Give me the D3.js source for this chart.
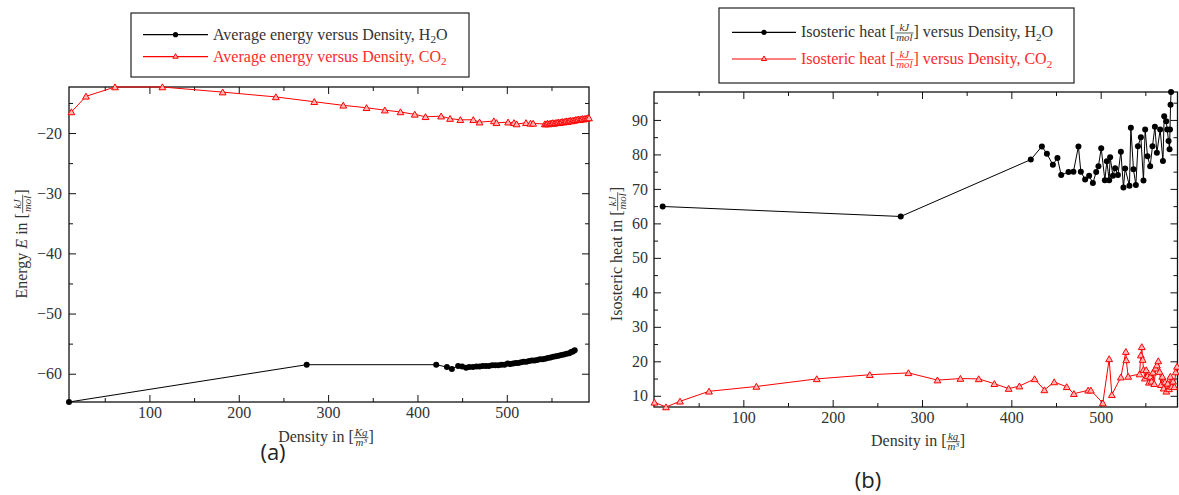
<!DOCTYPE html>
<html><head><meta charset="utf-8">
<script src="https://cdn.jsdelivr.net/npm/d3@7"></script>
<style>
html,body{margin:0;padding:0;background:#fff;}
svg{display:block;font-family:'Liberation Serif','DejaVu Serif',serif;}
</style></head>
<body>
<svg id="chart" width="1179" height="495"></svg>
<script>
// ---------- Panel (a): average energy vs density ----------
const aH2oDensity = [10, 276, 421, 433, 438.5, 445.5, 450, 454.5, 458, 462, 466, 469.5, 473, 476.5, 480, 483.5, 487, 490.5, 494, 497.5, 501, 504, 507, 510, 513, 516, 519, 522, 525, 528, 531, 534, 537, 540, 543, 546, 549, 552, 555, 558, 561, 564, 567, 570, 572, 574, 576];
const aH2oEnergy = [-64.7, -58.5, -58.5, -58.9, -59.2, -58.7, -58.8, -59.0, -58.9, -58.9, -58.8, -58.8, -58.7, -58.7, -58.7, -58.6, -58.6, -58.6, -58.5, -58.5, -58.3, -58.4, -58.3, -58.2, -58.2, -58.1, -58.0, -58.0, -57.9, -57.8, -57.8, -57.7, -57.6, -57.6, -57.5, -57.4, -57.3, -57.2, -57.1, -57.0, -56.9, -56.8, -56.7, -56.6, -56.4, -56.3, -56.1];
const aCo2Density = [12.7, 29, 61.5, 114.5, 182, 241.5, 284.5, 317, 343, 363.5, 381, 397, 409, 426.5, 436.5, 448, 462.5, 469.5, 485.5, 488.5, 501.5, 508, 511, 521.5, 526.5, 529.5, 542.5, 544, 545.5, 547, 548.5, 550, 551.5, 553, 554.5, 556, 557.5, 559, 560.5, 562, 563.5, 565, 566.5, 568, 569.5, 571, 572.5, 574, 575.5, 577, 578.5, 580, 581.5, 583, 584.5, 586, 587.5, 589, 590.5, 592];
const aCo2Energy = [-16.5, -13.9, -12.35, -12.35, -13.2, -14.0, -14.8, -15.4, -15.8, -16.2, -16.5, -16.9, -17.3, -17.2, -17.6, -17.8, -17.8, -18.2, -18.0, -18.3, -18.2, -18.3, -18.5, -18.3, -18.4, -18.4, -18.5, -18.5, -18.4, -18.5, -18.4, -18.4, -18.3, -18.4, -18.3, -18.3, -18.2, -18.3, -18.2, -18.1, -18.2, -18.1, -18.0, -18.1, -18.0, -17.9, -18.0, -17.9, -17.9, -17.8, -17.8, -17.7, -17.8, -17.7, -17.6, -17.7, -17.6, -17.6, -17.5, -17.5];

// ---------- Panel (b): isosteric heat vs density ----------
const bH2oDensity = [9.7, 276.2, 421.8, 434.2, 439.8, 446.5, 451.6, 455.8, 464, 469.5, 475.1, 477.8, 482.6, 487.1, 491.3, 495, 497.5, 500.6, 504.7, 506.9, 509.5, 510.6, 513.7, 516.2, 519.3, 522.6, 525.5, 527.4, 532.2, 533.8, 536.7, 539.4, 541.7, 545, 547.9, 549.8, 552.4, 555.4, 558, 560.7, 562.9, 566.6, 569.7, 571.1, 573.4, 574.5, 576, 577.1, 577.6, 578.2, 578.8];
const bH2oHeat = [64.9, 62.0, 78.5, 82.3, 80.2, 77.0, 78.95, 74.0, 74.9, 75.0, 82.3, 75.0, 72.7, 73.8, 71.7, 74.9, 76.6, 81.8, 72.5, 78.0, 72.5, 79.2, 73.8, 76.0, 74.0, 80.8, 70.4, 75.9, 70.9, 87.7, 75.7, 71.1, 82.4, 85.0, 72.4, 87.2, 79.5, 76.6, 82.4, 88.0, 80.5, 87.2, 78.1, 91.1, 89.6, 87.2, 83.9, 81.5, 87.2, 94.4, 98.1];
const bCo2Density = [0.5, 13.4, 29.1, 61.6, 114.6, 182.2, 241.5, 284.8, 317.3, 343, 363.5, 381, 397, 409, 426, 437, 448, 462, 470, 486, 489, 502.4, 509.5, 512.5, 522.6, 528.2, 528.6, 530.8, 543.5, 545, 546, 547, 548, 549.5, 551, 552.5, 554, 555.5, 557, 558.5, 560, 561.5, 563, 564.5, 566, 567.5, 569, 570.5, 572, 573.5, 575, 576.5, 578, 579.5, 581, 582.5, 584, 585.5];
const bCo2Heat = [8.1, 6.75, 8.4, 11.3, 12.7, 14.9, 16.1, 16.65, 14.55, 15.0, 14.9, 13.5, 12.1, 12.8, 14.9, 11.7, 14.0, 12.6, 10.6, 11.6, 11.6, 7.9, 20.7, 10.3, 15.4, 22.8, 20.4, 15.6, 16.3, 21.8, 24.2, 20.5, 17.6, 15.1, 17.5, 15.8, 13.9, 15.6, 14.2, 16.8, 13.5, 18.0, 18.9, 20.1, 17.0, 13.2, 15.6, 12.2, 14.0, 11.3, 13.6, 12.0, 15.6, 12.7, 14.2, 12.6, 16.9, 18.5];

// tick values
const xMajor = [100, 200, 300, 400, 500];
const xMinor = [50, 150, 250, 350, 450, 550];
const aYMajor = [-60, -50, -40, -30, -20];
const aYMinor = [-55, -45, -35, -25, -15];
const bYMajor = [10, 20, 30, 40, 50, 60, 70, 80, 90];
const bYMinor = [15, 25, 35, 45, 55, 65, 75, 85, 95];

const SERIF = "'Liberation Serif','DejaVu Serif',serif";
const RED = "#ff0000";
const svg = d3.select("#chart");

function rich(g, parts, size, color) {
  let x = 0;
  parts.forEach(p => {
    if (p.frac) {
      const fs = size * 0.68;
      const ly = -size * 0.27;
      const n = g.append("text").attr("y", ly - 2).attr("font-size", fs).attr("font-style", "italic")
        .attr("fill", color).attr("font-family", SERIF).attr("text-anchor", "middle").text(p.frac[0]);
      const d = g.append("text").attr("y", ly + 1 + fs * 0.68).attr("font-size", fs).attr("font-style", "italic")
        .attr("fill", color).attr("font-family", SERIF).attr("text-anchor", "middle").text(p.frac[1]);
      const w = Math.max(n.node().getComputedTextLength(), d.node().getComputedTextLength()) + 2;
      n.attr("x", x + w / 2); d.attr("x", x + w / 2);
      g.append("line").attr("x1", x).attr("x2", x + w).attr("y1", ly).attr("y2", ly)
        .attr("stroke", color).attr("stroke-width", 0.8);
      x += w;
    } else {
      const t = g.append("text").attr("x", x).attr("y", p.sub ? size * 0.22 : 0)
        .attr("font-size", p.sub ? size * 0.7 : size).attr("font-family", SERIF)
        .attr("font-style", p.it ? "italic" : "normal").attr("fill", color)
        .style("white-space", "pre").text(p.t);
      x += t.node().getComputedTextLength();
    }
  });
  return x;
}

function centeredLabel(parts, cx, cy, size, color, rotate) {
  const outer = svg.append("g");
  const g = outer.append("g");
  const w = rich(g, parts, size, color);
  g.attr("transform", `translate(${-w / 2},0)`);
  outer.attr("transform", `translate(${cx},${cy})` + (rotate ? " rotate(-90)" : ""));
}

function panel(cfg) {
  const { x, y, yMajor, yMinor, series } = cfg;
  const [x0, x1] = x.range();
  const [y0, y1] = y.range();
  const g = svg.append("g");
  const tickStyle = sel => {
    sel.attr("font-family", SERIF).attr("font-size", 16);
    sel.select(".domain").remove();
    sel.selectAll("line").attr("stroke", "#111").attr("stroke-width", 1);
    sel.selectAll("text").attr("font-family", SERIF).attr("font-size", 16).attr("fill", "#333");
  };
  // bottom
  g.append("g").attr("transform", `translate(0,${y0})`)
    .call(d3.axisBottom(x).tickValues(xMajor).tickSize(-7).tickPadding(5).tickFormat(d3.format("d"))).call(tickStyle);
  g.append("g").attr("transform", `translate(0,${y0})`)
    .call(d3.axisBottom(x).tickValues(xMinor).tickSize(-4).tickFormat("")).call(tickStyle);
  // top
  g.append("g").attr("transform", `translate(0,${y1})`)
    .call(d3.axisTop(x).tickValues(xMajor).tickSize(-7).tickFormat("")).call(tickStyle);
  g.append("g").attr("transform", `translate(0,${y1})`)
    .call(d3.axisTop(x).tickValues(xMinor).tickSize(-4).tickFormat("")).call(tickStyle);
  // left
  g.append("g").attr("transform", `translate(${x0},0)`)
    .call(d3.axisLeft(y).tickValues(yMajor).tickSize(-7).tickPadding(cfg.yPad).tickFormat(d3.format("d"))).call(tickStyle);
  g.append("g").attr("transform", `translate(${x0},0)`)
    .call(d3.axisLeft(y).tickValues(yMinor).tickSize(-4).tickFormat("")).call(tickStyle);
  // right
  g.append("g").attr("transform", `translate(${x1},0)`)
    .call(d3.axisRight(y).tickValues(yMajor).tickSize(-7).tickFormat("")).call(tickStyle);
  g.append("g").attr("transform", `translate(${x1},0)`)
    .call(d3.axisRight(y).tickValues(yMinor).tickSize(-4).tickFormat("")).call(tickStyle);
  // frame
  g.append("rect").attr("x", x0).attr("y", y1).attr("width", x1 - x0).attr("height", y0 - y1)
    .attr("fill", "none").attr("stroke", "#111").attr("stroke-width", 1.3);

  series.forEach(s => {
    const pts = s.xs.map((d, i) => [d, s.ys[i]]);
    g.append("path").datum(pts)
      .attr("d", d3.line().x(d => x(d[0])).y(d => y(d[1])))
      .attr("fill", "none").attr("stroke", s.color).attr("stroke-width", 1);
    if (s.marker === "circle") {
      g.selectAll(null).data(pts).join("circle")
        .attr("cx", d => x(d[0])).attr("cy", d => y(d[1])).attr("r", 3).attr("fill", "#000");
    } else {
      g.selectAll(null).data(pts).join("path")
        .attr("transform", d => `translate(${x(d[0])},${y(d[1]) + 0.8})`)
        .attr("d", d3.symbol(d3.symbolTriangle).size(20))
        .attr("fill", "#ffb8b8").attr("stroke", RED).attr("stroke-width", 1);
    }
  });
}

function legend(box, rows) {
  svg.append("rect").attr("x", box.x).attr("y", box.y).attr("width", box.w).attr("height", box.h)
    .attr("fill", "#fff").attr("stroke", "#222").attr("stroke-width", 1.2);
  rows.forEach(r => {
    svg.append("line").attr("x1", box.lx0).attr("x2", box.lx1).attr("y1", r.ly).attr("y2", r.ly)
      .attr("stroke", r.color).attr("stroke-width", 1.2);
    const mx = (box.lx0 + box.lx1) / 2;
    if (r.marker === "circle") {
      svg.append("circle").attr("cx", mx).attr("cy", r.ly).attr("r", 2.6).attr("fill", "#000");
    } else {
      svg.append("path").attr("transform", `translate(${mx},${r.ly})`)
        .attr("d", d3.symbol(d3.symbolTriangle).size(12))
        .attr("fill", "#ffb8b8").attr("stroke", RED).attr("stroke-width", 1);
    }
    const g = svg.append("g").attr("transform", `translate(${box.tx},${r.ly + 5})`);
    rich(g, r.parts, 16, r.textColor);
  });
}

// ----- panel a -----
const xA = d3.scaleLinear([10, 592], [69, 589]);
const yA = d3.scaleLinear([-64.7, -12.35], [402, 87]);
panel({
  x: xA, y: yA, yMajor: aYMajor, yMinor: aYMinor, yPad: 7,
  series: [
    { xs: aCo2Density, ys: aCo2Energy, color: RED, marker: "triangle" },
    { xs: aH2oDensity, ys: aH2oEnergy, color: "#000", marker: "circle" }
  ]
});

// ----- panel b -----
const xB = d3.scaleLinear([0, 586], [654, 1177.5]);
const yB = d3.scaleLinear([6.75, 98.1], [407, 92]);
panel({
  x: xB, y: yB, yMajor: bYMajor, yMinor: bYMinor, yPad: 6,
  series: [
    { xs: bH2oDensity, ys: bH2oHeat, color: "#000", marker: "circle" },
    { xs: bCo2Density, ys: bCo2Heat, color: RED, marker: "triangle" }
  ]
});

// axis labels
centeredLabel([{ t: "Density in [" }, { frac: ["Kg", "m³"] }, { t: "]" }], 326, 442, 16, "#333", false);
centeredLabel([{ t: "Energy " }, { t: "E", it: true }, { t: " in [" }, { frac: ["kJ", "mol"] }, { t: "]" }], 27, 244, 16, "#333", true);
centeredLabel([{ t: "Density in [" }, { frac: ["kg", "m³"] }, { t: "]" }], 918, 446, 16, "#333", false);
centeredLabel([{ t: "Isosteric heat in [" }, { frac: ["kJ", "mol"] }, { t: "]" }], 622, 254, 16, "#333", true);

// legends
legend({ x: 131, y: 13, w: 338, h: 64, lx0: 143, lx1: 208, tx: 213 }, [
  { ly: 34.7, color: "#000", marker: "circle", textColor: "#333",
    parts: [{ t: "Average energy versus Density, H" }, { t: "2", sub: true }, { t: "O" }] },
  { ly: 56.7, color: RED, marker: "triangle", textColor: "#ff2a2a",
    parts: [{ t: "Average energy versus Density, CO" }, { t: "2", sub: true }] }
]);
legend({ x: 719, y: 8, w: 355, h: 75, lx0: 732, lx1: 796, tx: 801 }, [
  { ly: 32.3, color: "#000", marker: "circle", textColor: "#333",
    parts: [{ t: "Isosteric heat [" }, { frac: ["kJ", "mol"] }, { t: "] versus Density, H" }, { t: "2", sub: true }, { t: "O" }] },
  { ly: 59, color: RED, marker: "triangle", textColor: "#ff2a2a",
    parts: [{ t: "Isosteric heat [" }, { frac: ["kJ", "mol"] }, { t: "] versus Density, CO" }, { t: "2", sub: true }] }
]);

// captions
svg.append("text").attr("x", 273).attr("y", 460).attr("text-anchor", "middle")
  .attr("font-family", "'Open Sans','Noto Sans',sans-serif").attr("font-size", 22).attr("fill", "#222").text("(a)");
svg.append("text").attr("x", 868).attr("y", 488).attr("text-anchor", "middle")
  .attr("font-family", "'Open Sans','Noto Sans',sans-serif").attr("font-size", 22).attr("fill", "#222").text("(b)");
</script>
</body></html>
